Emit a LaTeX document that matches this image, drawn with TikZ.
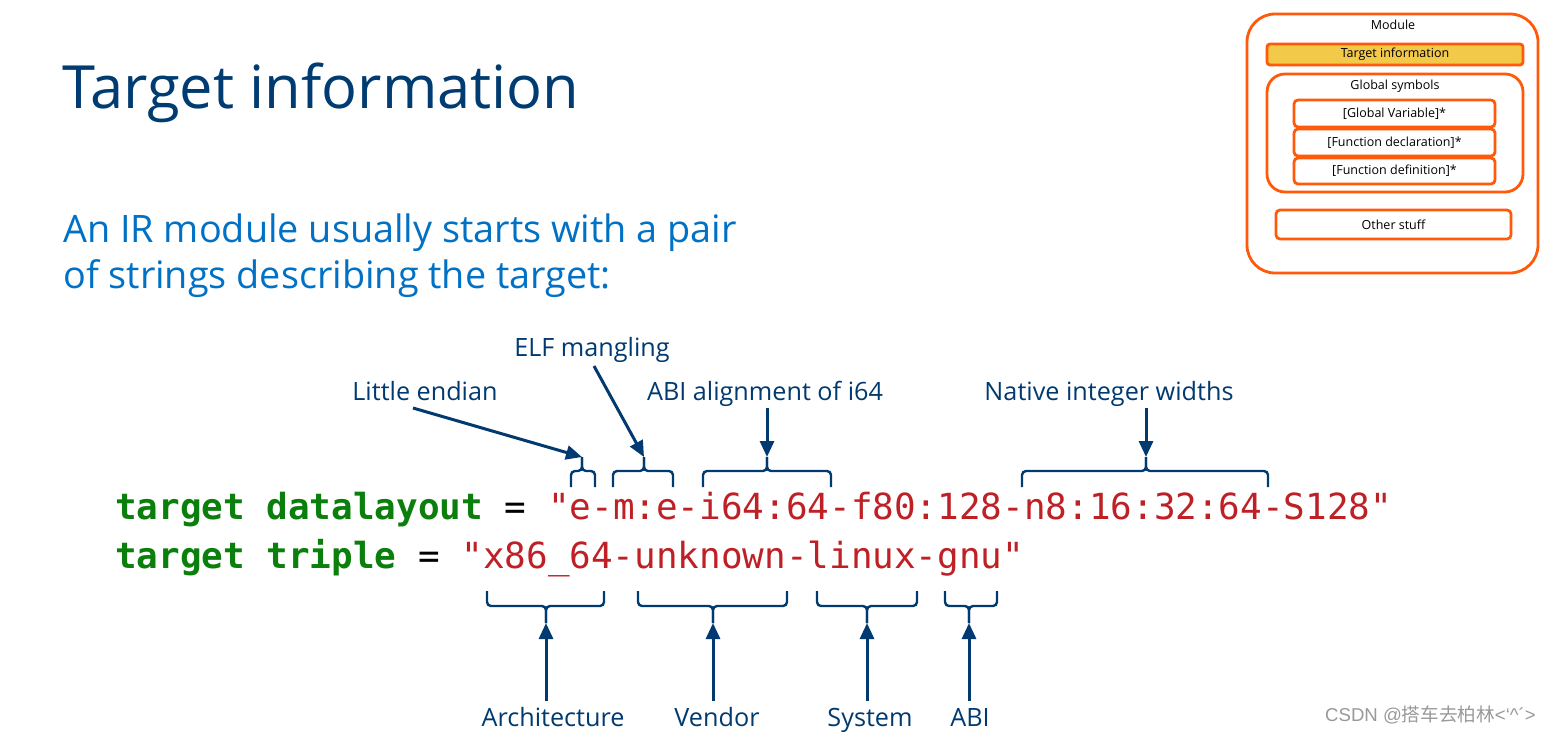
\documentclass[tikz,border=0pt]{standalone}
\usepackage{fontspec}
\setmainfont{Open Sans}
\setmonofont{DejaVu Sans Mono}
\newfontfamily\cjk{Noto Sans CJK SC}
\newfontfamily\wmfont{Liberation Sans}
\usetikzlibrary{arrows.meta}
\definecolor{titleblue}{HTML}{003C71}
\definecolor{subblue}{HTML}{0071C5}
\definecolor{navy}{HTML}{003A70}
\definecolor{kwgreen}{HTML}{0B7F0B}
\definecolor{strred}{HTML}{BE2026}
\definecolor{modorange}{HTML}{FF5A0A}
\definecolor{modyellow}{HTML}{F3C94A}
\tikzset{
  lbl/.style={anchor=base, inner sep=0pt, text=navy, font=\fontsize{25.2}{28}\selectfont},
  bracepath/.style={draw=navy, line width=2.4pt, rounded corners=4pt},
  pointer/.style={draw=navy, line width=3pt, -{Triangle[length=16pt,width=14pt]}},
  codeline/.style={anchor=base west, inner sep=0pt, font=\ttfamily\fontsize{35.95}{40}\selectfont},
  modbox/.style={draw=modorange, line width=2.8pt, inner sep=0pt},
  modtext/.style={inner sep=0pt, font=\fontsize{12.5}{14}\selectfont, text=black}
}
\begin{document}
\begin{tikzpicture}[x=1pt,y=-1pt]
\useasboundingbox (0,0) rectangle (1555,732);
\fill[white] (0,0) rectangle (1555,732);

% title and subtitle
\node[anchor=base west, inner sep=0pt, text=titleblue, font=\fontsize{59.6}{62}\selectfont] (title) at (62,108) {Target information};
\node[anchor=base west, inner sep=0pt, text=subblue, font=\fontsize{37.8}{40}\selectfont] (sub1) at (63,242) {An IR module usually starts with a pair};
\node[anchor=base west, inner sep=0pt, text=subblue, font=\fontsize{37.8}{40}\selectfont] (sub2) at (63,288) {of strings describing the target:};

% module overview
\node[modbox, rounded corners=28pt, minimum width=291pt, minimum height=259pt] (module) at (1392.5,143.5) {};
\node[modtext] (modlbl) at (1393,25) {Module};
\node[modbox, fill=modyellow, rounded corners=3pt, minimum width=256pt, minimum height=21pt] (tinfo) at (1395,54.5) {};
\node[modtext] at (tinfo) {Target information};
\node[modbox, rounded corners=18pt, minimum width=256pt, minimum height=118pt] (gsym) at (1395,133) {};
\node[modtext] (gsymlbl) at (1395,86) {Global symbols};
\node[modbox, rounded corners=4pt, minimum width=201pt, minimum height=27pt] (gvar) at (1394.5,113.5) {};
\node[modtext] at (gvar) {[Global Variable]*};
\node[modbox, rounded corners=4pt, minimum width=201pt, minimum height=27pt] (fdecl) at (1394.5,142.5) {};
\node[modtext] at (fdecl) {[Function declaration]*};
\node[modbox, rounded corners=4pt, minimum width=201pt, minimum height=26pt] (fdef) at (1394.5,171) {};
\node[modtext] at (fdef) {[Function definition]*};
\node[modbox, rounded corners=4pt, minimum width=235pt, minimum height=29pt] (other) at (1393.5,224.5) {};
\node[modtext] at (other) {Other stuff};

% code
\node[codeline] (dl) at (115,519) {\textcolor{kwgreen}{\bfseries target datalayout} = \textcolor{strred}{"e-m:e-i64:64-f80:128-n8:16:32:64-S128"}};
\node[codeline] (tt) at (115,568) {\textcolor{kwgreen}{\bfseries target triple} = \textcolor{strred}{"x86\_64-unknown-linux-gnu"}};

% top labels
\node[lbl] (elf) at (592,356) {ELF mangling};
\node[lbl] (le) at (425,400) {Little endian};
\node[lbl] (abia) at (765,400) {ABI alignment of i64};
\node[lbl] (niw) at (1109,400) {Native integer widths};

% top braces
\coordinate (tLE) at (582,457);
\coordinate (tELF) at (644,457);
\coordinate (tABIA) at (767,457);
\coordinate (tNIW) at (1146,457);
\draw[bracepath] (571,487) -- (571,471) -- (582,471) -- (tLE);
\draw[bracepath] (595,487) -- (595,471) -- (582,471) -- (tLE);
\draw[bracepath] (613,487) -- (613,471) -- (644,471) -- (tELF);
\draw[bracepath] (673,487) -- (673,471) -- (644,471) -- (tELF);
\draw[bracepath] (703,487) -- (703,471) -- (767,471) -- (tABIA);
\draw[bracepath] (831,487) -- (831,471) -- (767,471) -- (tABIA);
\draw[bracepath] (1022,487) -- (1022,471) -- (1146,471) -- (tNIW);
\draw[bracepath] (1268,487) -- (1268,471) -- (1146,471) -- (tNIW);

\coordinate (leS) at (413,408);
\coordinate (elfS) at (594,366);
\coordinate (abiaS) at (767,408);
\coordinate (niwS) at (1146,408);
\draw[pointer] (leS) -- (tLE);
\draw[pointer] (elfS) -- (tELF);
\draw[pointer] (abiaS) -- (tABIA);
\draw[pointer] (niwS) -- (tNIW);

% bottom labels
\node[lbl] (arch) at (553,726) {Architecture};
\node[lbl] (vend) at (717,726) {Vendor};
\node[lbl] (sys) at (870,726) {System};
\node[lbl] (abi) at (970,726) {ABI};

% bottom braces
\coordinate (bArch) at (546,623);
\coordinate (bVend) at (713,623);
\coordinate (bSys) at (867,623);
\coordinate (bABI) at (969,623);
\draw[bracepath] (487,591) -- (487,606) -- (546,606) -- (bArch);
\draw[bracepath] (604,591) -- (604,606) -- (546,606) -- (bArch);
\draw[bracepath] (638,591) -- (638,606) -- (713,606) -- (bVend);
\draw[bracepath] (787,591) -- (787,606) -- (713,606) -- (bVend);
\draw[bracepath] (817,591) -- (817,606) -- (867,606) -- (bSys);
\draw[bracepath] (917,591) -- (917,606) -- (867,606) -- (bSys);
\draw[bracepath] (945,591) -- (945,606) -- (969,606) -- (bABI);
\draw[bracepath] (997,591) -- (997,606) -- (969,606) -- (bABI);

\coordinate (sArch) at (546,701);
\coordinate (sVend) at (713,701);
\coordinate (sSys) at (867,701);
\coordinate (sABI) at (969,701);
\draw[pointer] (sArch) -- (bArch);
\draw[pointer] (sVend) -- (bVend);
\draw[pointer] (sSys) -- (bSys);
\draw[pointer] (sABI) -- (bABI);

% watermark
\node[anchor=base west, inner sep=0pt, text=black!40, font=\wmfont\fontsize{18.6}{20}\selectfont] (wm) at (1325,721) {CSDN @{\cjk 搭车去柏林}<‘\textasciicircum ´>};
\end{tikzpicture}
\end{document}
